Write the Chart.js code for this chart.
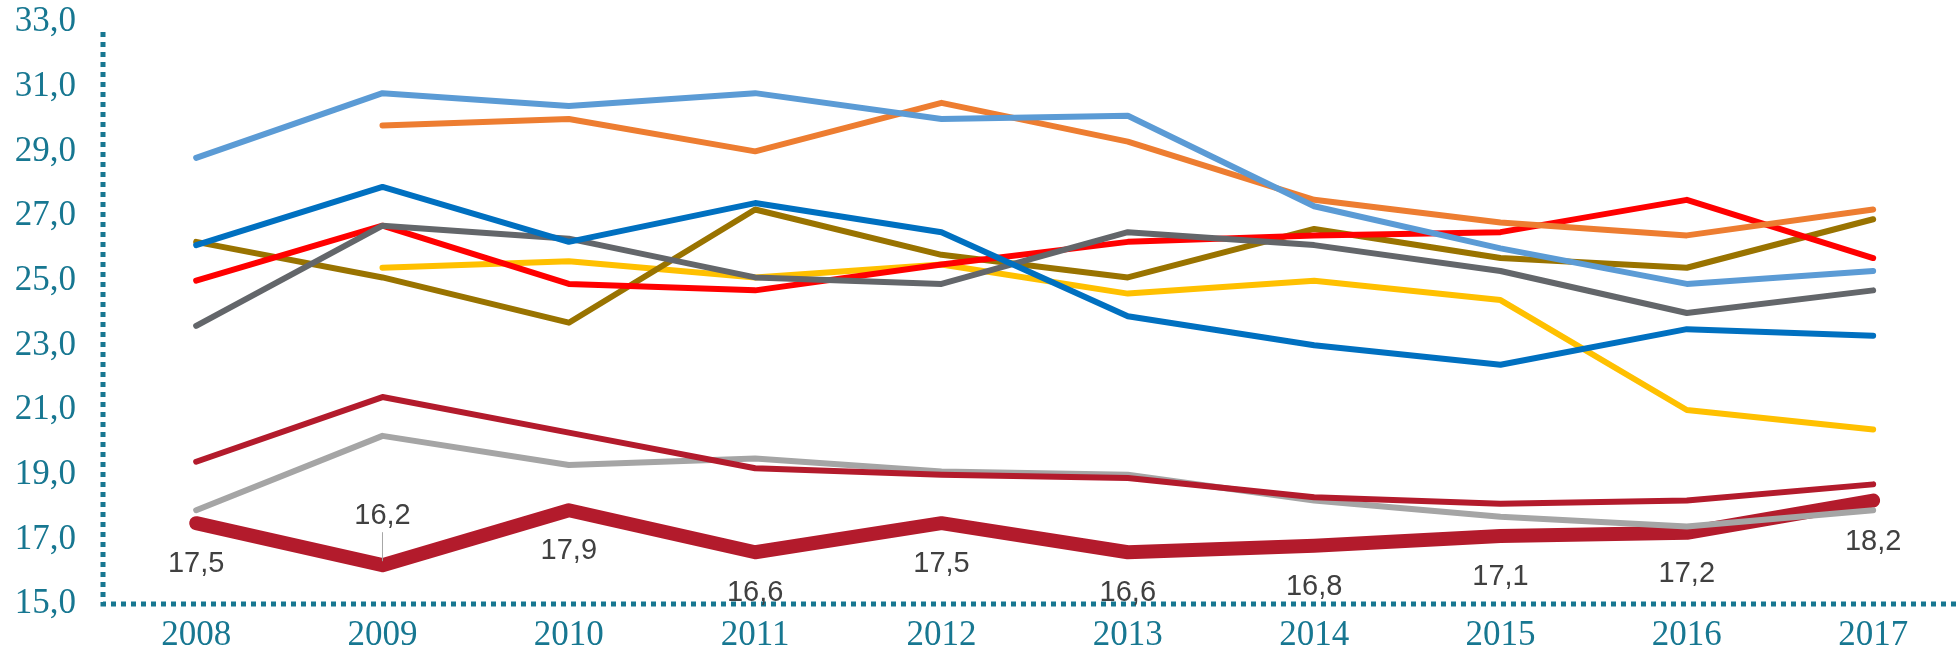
<!DOCTYPE html>
<html>
<head>
<meta charset="utf-8">
<script src="https://cdn.jsdelivr.net/npm/chart.js@4"></script>
<style>
  html, body { margin: 0; padding: 0; background: #fff; }
  #wrap { width: 1957px; height: 653px; }
</style>
</head>
<body>
<div id="wrap"><canvas id="chart"></canvas></div>
<script>
const years = [2008, 2009, 2010, 2011, 2012, 2013, 2014, 2015, 2016, 2017];
const yTicks = [15, 17, 19, 21, 23, 25, 27, 29, 31, 33];

const lightBlue = [28.8, 30.8, 30.4, 30.8, 30.0, 30.1, 27.3, 26.0, 24.9, 25.3];
const orange    = [null, 29.8, 30.0, 29.0, 30.5, 29.3, 27.5, 26.8, 26.4, 27.2];
const blue      = [26.1, 27.9, 26.2, 27.4, 26.5, 23.9, 23.0, 22.4, 23.5, 23.3];
const red       = [25.0, 26.7, 24.9, 24.7, 25.5, 26.2, 26.4, 26.5, 27.5, 25.7];
const darkGray  = [23.6, 26.7, 26.3, 25.1, 24.9, 26.5, 26.1, 25.3, 24.0, 24.7];
const olive     = [26.2, 25.1, 23.7, 27.2, 25.8, 25.1, 26.6, 25.7, 25.4, 26.9];
const yellow    = [null, 25.4, 25.6, 25.1, 25.5, 24.6, 25.0, 24.4, 21.0, 20.4];
const darkRed   = [19.4, 21.4, 20.3, 19.2, 19.0, 18.9, 18.3, 18.1, 18.2, 18.7];
const lightGray = [17.9, 20.2, 19.3, 19.5, 19.1, 19.0, 18.2, 17.7, 17.4, 17.9];
const main      = [17.5, 16.2, 17.9, 16.6, 17.5, 16.6, 16.8, 17.1, 17.2, 18.2];

const teal = '#177791';

function pts(vals) {
  return years.map((yr, i) => ({ x: yr, y: vals[i] }));
}

function line(vals, color, width) {
  return {
    data: pts(vals),
    borderColor: color,
    backgroundColor: color,
    borderWidth: width,
    pointRadius: 0,
    borderCapStyle: 'round',
    borderJoinStyle: 'round',
    tension: 0
  };
}

const fmt = v => v.toFixed(1).replace('.', ',');

// dotted axis lines (border.dash only works on grid lines)
const dottedAxes = {
  id: 'dottedAxes',
  beforeDatasetsDraw(chart) {
    const { ctx, chartArea: a } = chart;
    ctx.save();
    ctx.strokeStyle = teal;
    ctx.lineWidth = 5;
    ctx.setLineDash([5, 5]);
    ctx.beginPath();
    ctx.moveTo(a.left, a.top + 10);
    ctx.lineTo(a.left, a.bottom);
    ctx.lineTo(chart.width, a.bottom);
    ctx.stroke();
    ctx.restore();
  }
};

// value labels for the thick line
const labelPlugin = {
  id: 'mainLabels',
  afterDatasetsDraw(chart) {
    const ctx = chart.ctx;
    const meta = chart.getDatasetMeta(chart.data.datasets.length - 1);
    ctx.save();
    ctx.font = '29px "Liberation Sans", Arial, sans-serif';
    ctx.fillStyle = '#404040';
    ctx.textAlign = 'center';
    ctx.textBaseline = 'middle';
    meta.data.forEach((p, i) => {
      if (i === 1) {
        const ly = p.y - 49;
        ctx.fillText(fmt(main[i]), p.x, ly);
        ctx.strokeStyle = '#a6a6a6';
        ctx.lineWidth = 1;
        ctx.beginPath();
        ctx.moveTo(p.x, ly + 16);
        ctx.lineTo(p.x, p.y - 4);
        ctx.stroke();
      } else {
        ctx.fillText(fmt(main[i]), p.x, p.y + 41);
      }
    });
    ctx.restore();
  }
};

new Chart(document.getElementById('chart'), {
  type: 'line',
  data: {
    datasets: [
      line(lightBlue, '#5B9BD5', 6),
      line(orange, '#ED7D31', 6),
      line(blue, '#0070C0', 6),
      line(darkGray, '#63666A', 6),
      line(red, '#FF0000', 6),
      line(olive, '#997300', 6),
      line(yellow, '#FFC000', 6),
      line(darkRed, '#B31B2C', 6),
      line(lightGray, '#A5A5A5', 6),
      line(main, '#B31B2C', 14)
    ]
  },
  options: {
    responsive: true,
    maintainAspectRatio: false,
    animation: false,
    layout: { padding: { left: 15, top: 22, right: 0, bottom: 0 } },
    plugins: {
      legend: { display: false },
      tooltip: { enabled: false }
    },
    scales: {
      x: {
        type: 'linear',
        min: 2007.5,
        max: 2017.45,
        afterBuildTicks: s => { s.ticks = years.map(v => ({ value: v })); },
        afterFit: s => { s.height = 49; s.paddingLeft = 0; s.paddingRight = 0; },
        grid: { display: false, drawTicks: false },
        border: { display: false },
        ticks: {
          padding: 14,
          color: teal,
          font: { family: '"Liberation Serif", "DejaVu Serif", serif', size: 35, lineHeight: 1 },
          callback: v => String(v)
        }
      },
      y: {
        min: 15,
        max: 33,
        afterBuildTicks: s => { s.ticks = yTicks.map(v => ({ value: v })); },
        afterFit: s => { s.width = 88; s.paddingTop = 0; s.paddingBottom = 0; },
        grid: { display: false, drawTicks: false },
        border: { display: false },
        ticks: {
          padding: 27,
          color: teal,
          font: { family: '"Liberation Serif", "DejaVu Serif", serif', size: 35, lineHeight: 1 },
          callback: v => fmt(v)
        }
      }
    }
  },
  plugins: [dottedAxes, labelPlugin]
});
</script>
</body>
</html>
